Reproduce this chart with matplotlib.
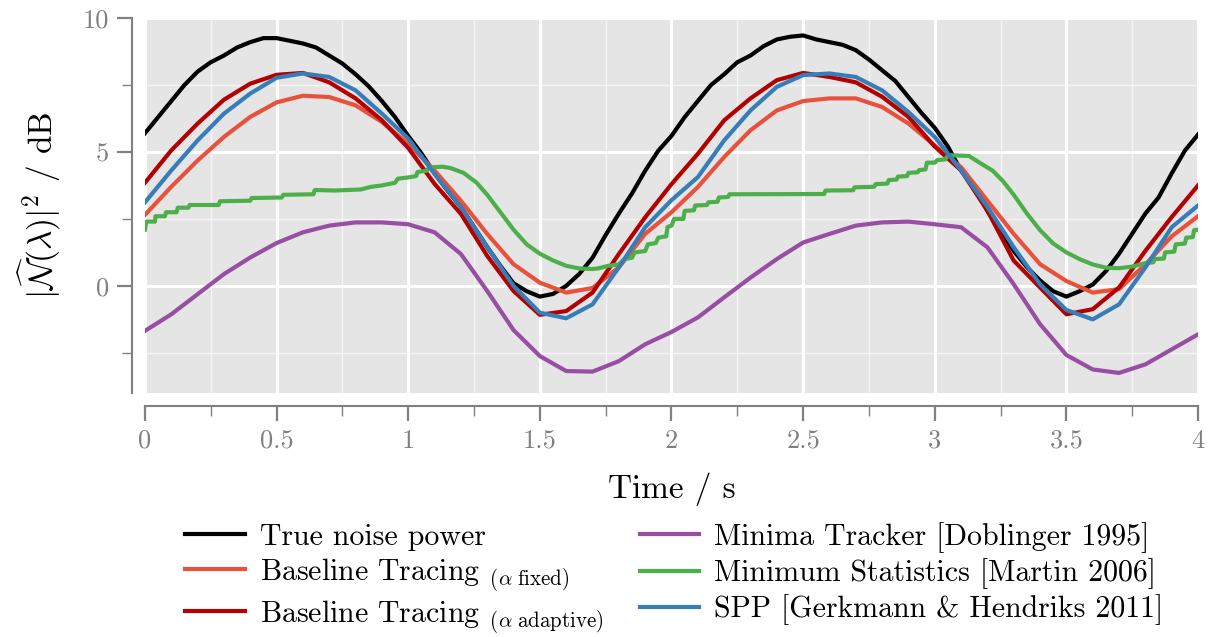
import numpy as np
import matplotlib
matplotlib.use('Agg')
import matplotlib.pyplot as plt
from matplotlib.ticker import MultipleLocator

# computer modern look
plt.rcParams['font.family'] = 'serif'
plt.rcParams['font.serif'] = ['cmr10']
plt.rcParams['mathtext.fontset'] = 'cm'
plt.rcParams['axes.unicode_minus'] = False
plt.rcParams['axes.formatter.use_mathtext'] = True

# time grid of the true noise power (0.05 s)
t_true = np.arange(81) * 0.05
true_power = [5.7, 6.3, 6.9, 7.5, 8.0, 8.35, 8.6, 8.9, 9.1, 9.25,
              9.25, 9.15, 9.05, 8.9, 8.6, 8.3, 7.9, 7.45, 6.9, 6.3,
              5.6, 4.95, 4.2, 3.55, 2.95, 2.2, 1.45, 0.75, 0.1, -0.2,
              -0.4, -0.3, 0.0, 0.45, 1.05, 1.9, 2.7, 3.45, 4.3, 5.05,
              5.6, 6.3, 6.9, 7.5, 7.9, 8.35, 8.6, 8.95, 9.2, 9.3,
              9.35, 9.2, 9.1, 9.0, 8.8, 8.45, 8.05, 7.65, 7.05, 6.45,
              5.9, 5.2, 4.3, 3.7, 2.8, 2.05, 1.3, 0.7, 0.2, -0.2,
              -0.4, -0.2, 0.05, 0.55, 1.2, 1.95, 2.7, 3.3, 4.2, 5.05,
              5.65]

# time grid of the smooth estimators (0.1 s)
t_est = np.arange(41) * 0.1
bt_fixed = [2.65, 3.7, 4.68, 5.56, 6.31, 6.85, 7.1, 7.05, 6.74, 6.12,
            5.3, 4.31, 3.18, 1.94, 0.81, 0.12, -0.25, -0.08, 0.69, 1.94,
            2.75, 3.69, 4.81, 5.81, 6.55, 6.9, 7.0, 7.0, 6.68, 6.06,
            5.24, 4.43, 3.18, 1.94, 0.81, 0.18, -0.25, -0.12, 0.8, 1.85,
            2.6]
bt_adaptive = [3.85, 5.06, 6.06, 6.95, 7.55, 7.88, 7.95, 7.6, 7.0, 6.18,
               5.15, 3.81, 2.69, 1.12, -0.19, -1.08, -0.94, -0.25, 1.19, 2.56,
               3.8, 4.93, 6.18, 7.0, 7.68, 7.95, 7.8, 7.6, 7.06, 6.31,
               5.2, 4.31, 2.81, 0.94, -0.06, -1.06, -0.87, -0.06, 1.31, 2.57,
               3.75]
spp = [3.12, 4.31, 5.43, 6.43, 7.18, 7.77, 7.93, 7.8, 7.3, 6.43,
       5.5, 4.18, 2.95, 1.45, 0.0, -1.0, -1.21, -0.69, 0.69, 2.19,
       3.2, 4.06, 5.43, 6.55, 7.43, 7.87, 7.93, 7.8, 7.3, 6.49,
       5.56, 4.31, 2.95, 1.44, 0.06, -0.9, -1.25, -0.69, 0.69, 2.19,
       3.0]
minima_tracker = [-1.68, -1.06, -0.31, 0.44, 1.06, 1.6, 2.0, 2.25, 2.37, 2.37,
                  2.3, 2.0, 1.19, -0.19, -1.65, -2.62, -3.18, -3.2, -2.81, -2.18,
                  -1.72, -1.18, -0.43, 0.31, 1.0, 1.62, 1.94, 2.25, 2.37, 2.4,
                  2.3, 2.19, 1.44, 0.06, -1.43, -2.58, -3.12, -3.25, -2.93, -2.37,
                  -1.81]

# minimum statistics is step-like, so own breakpoints
t_ms = [0.0, 0.005, 0.038, 0.04, 0.076, 0.08, 0.12, 0.125, 0.165, 0.17,
        0.28, 0.285, 0.40, 0.405, 0.52, 0.525, 0.64, 0.645, 0.72, 0.82,
        0.86, 0.9, 0.95, 0.96, 1.0, 1.03, 1.035, 1.07, 1.08, 1.13,
        1.16, 1.21, 1.26, 1.3, 1.35, 1.4, 1.45, 1.5, 1.55, 1.6,
        1.65, 1.7, 1.72, 1.76, 1.8, 1.82, 1.85, 1.86, 1.9, 1.91,
        1.94, 1.95, 1.98, 1.985, 2.0, 2.01, 2.045, 2.05, 2.085, 2.09,
        2.135, 2.14, 2.175, 2.18, 2.215, 2.22, 2.58, 2.585, 2.69, 2.695,
        2.77, 2.775, 2.82, 2.825, 2.855, 2.86, 2.895, 2.9, 2.935, 2.94,
        2.965, 2.97, 3.0, 3.01, 3.04, 3.05, 3.13, 3.17, 3.22, 3.26,
        3.3, 3.35, 3.4, 3.45, 3.5, 3.55, 3.6, 3.65, 3.7, 3.75,
        3.8, 3.83, 3.835, 3.87, 3.875, 3.91, 3.915, 3.95, 3.955, 3.98,
        3.985, 4.0]
min_stats = [2.1, 2.4, 2.4, 2.6, 2.6, 2.75, 2.75, 2.92, 2.92, 3.02,
             3.02, 3.16, 3.18, 3.28, 3.3, 3.4, 3.42, 3.58, 3.56, 3.6,
             3.7, 3.75, 3.85, 4.0, 4.05, 4.1, 4.25, 4.3, 4.42, 4.45,
             4.4, 4.22, 3.85, 3.4, 2.75, 2.1, 1.55, 1.2, 0.95, 0.75,
             0.65, 0.63, 0.65, 0.75, 0.8, 1.0, 1.05, 1.25, 1.3, 1.55,
             1.6, 1.8, 1.85, 2.2, 2.25, 2.5, 2.5, 2.8, 2.82, 3.0,
             3.02, 3.12, 3.14, 3.3, 3.32, 3.42, 3.43, 3.56, 3.57, 3.68,
             3.7, 3.8, 3.82, 3.95, 3.97, 4.08, 4.1, 4.22, 4.24, 4.32,
             4.35, 4.6, 4.6, 4.7, 4.72, 4.88, 4.85, 4.6, 4.3, 3.9,
             3.4, 2.7, 2.08, 1.58, 1.25, 1.0, 0.8, 0.68, 0.66, 0.72,
             0.85, 0.88, 1.0, 1.02, 1.25, 1.28, 1.55, 1.58, 1.8, 1.82,
             2.08, 2.1]

x_ticks = [0, 0.5, 1, 1.5, 2, 2.5, 3, 3.5, 4]
x_tick_labels = ['0', '0.5', '1', '1.5', '2', '2.5', '3', '3.5', '4']
y_ticks = [0, 5, 10]
y_tick_labels = ['0', '5', '10']

labels = ['True noise power',
          r'Baseline Tracing $_{(\alpha\ \mathrm{fixed})}$',
          r'Baseline Tracing $_{(\alpha\ \mathrm{adaptive})}$',
          'Minima Tracker [Doblinger 1995]',
          'Minimum Statistics [Martin 2006]',
          'SPP [Gerkmann & Hendriks 2011]']
colors = ['#000000', '#e8523d', '#b30000', '#984ea3', '#4daf4a', '#377eb8']

fig = plt.figure(figsize=(12.11, 6.37), dpi=100)
ax = fig.add_axes([0.1197, 0.383, 0.8696, 0.5887])
ax.set_facecolor('#e5e5e5')

lw = 3.0
h = []
h += ax.plot(t_true, true_power, color=colors[0], lw=lw, label=labels[0])
h += ax.plot(t_est, bt_fixed, color=colors[1], lw=lw, label=labels[1])
h += ax.plot(t_est, bt_adaptive, color=colors[2], lw=lw, label=labels[2])
h += ax.plot(t_est, minima_tracker, color=colors[3], lw=lw, label=labels[3])
h += ax.plot(t_ms, min_stats, color=colors[4], lw=lw, label=labels[4])
h += ax.plot(t_est, spp, color=colors[5], lw=lw, label=labels[5])

ax.set_xlim(0, 4)
ax.set_ylim(-4, 10)
ax.set_xticks(x_ticks)
ax.set_xticklabels(x_tick_labels)
ax.set_yticks(y_ticks)
ax.set_yticklabels(y_tick_labels)
ax.xaxis.set_minor_locator(MultipleLocator(0.25))
ax.yaxis.set_minor_locator(MultipleLocator(2.5))

# white grid like ggplot
ax.set_axisbelow(True)
ax.grid(which='major', color='white', lw=2.2)
ax.grid(which='minor', color='white', lw=1.0, alpha=0.6)

# offset spines
for s in ['top', 'right']:
    ax.spines[s].set_visible(False)
for s in ['left', 'bottom']:
    ax.spines[s].set_position(('outward', 9))
    ax.spines[s].set_color('#808080')
    ax.spines[s].set_linewidth(1.5)

ax.tick_params(which='major', length=11, width=1.6, color='#808080',
               labelcolor='#808080', labelsize=19, pad=6)
ax.tick_params(which='minor', length=7, width=1.0, color='#808080')

ax.set_xlabel('Time / s', fontsize=24, labelpad=14)
ax.set_ylabel(r'$|\widehat{\mathcal{N}}(\lambda)|^2$ / dB', fontsize=24, labelpad=14)

fig.legend(handles=h, labels=labels, loc='center', bbox_to_anchor=(0.557, 0.092),
           ncol=2, frameon=False, fontsize=21.5, handlelength=2.0,
           handletextpad=0.5, columnspacing=1.2, labelspacing=0.18)

fig.savefig('out.png', dpi=100)
